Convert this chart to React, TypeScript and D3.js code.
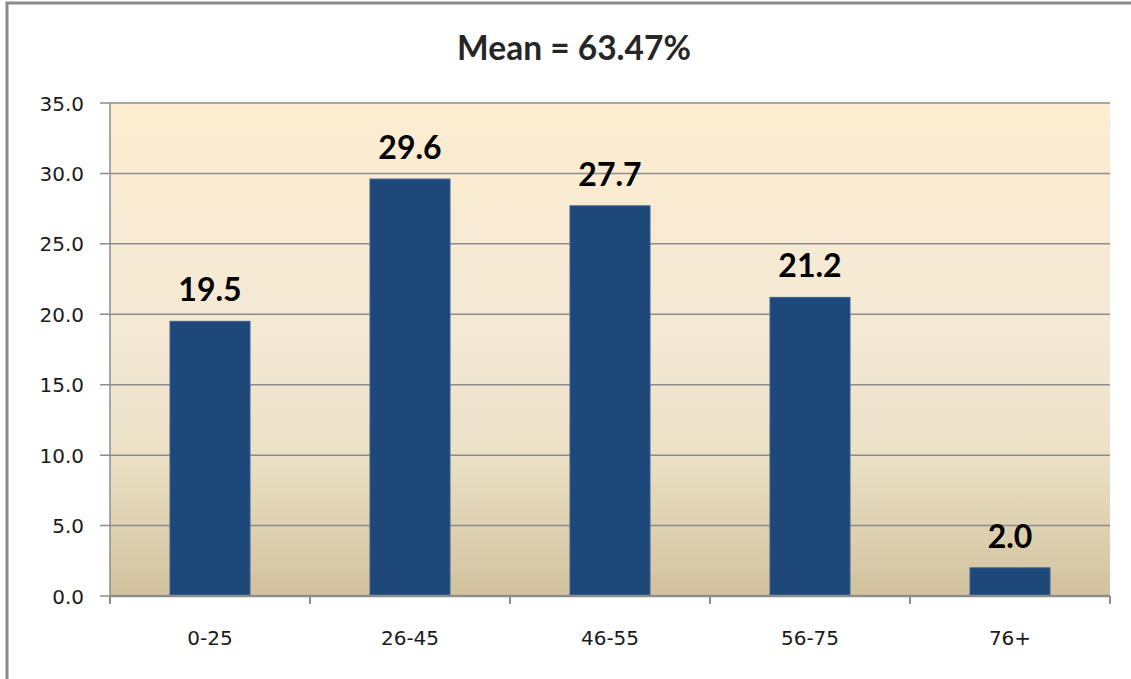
import React from "react";
import * as d3 from "d3";

const categories = ["0-25", "26-45", "46-55", "56-75", "76+"];
const values = [19.5, 29.6, 27.7, 21.2, 2.0];
const yTicks = [0, 5, 10, 15, 20, 25, 30, 35];
const title = "Mean = 63.47%";

const W = 1131;
const H = 679;
const plot = { left: 110, right: 1110, top: 103, bottom: 596 };

export default function App() {
  const x = d3
    .scaleBand<string>()
    .domain(categories)
    .range([plot.left, plot.right])
    .paddingInner(0.6)
    .paddingOuter(0.3);
  const xOuter = d3.scaleBand<string>().domain(categories).range([plot.left, plot.right]);
  const y = d3.scaleLinear().domain([0, 35]).range([plot.bottom, plot.top]);
  const grid = "#8c8c8c";

  return (
    <svg
      width={W}
      height={H}
      style={{ position: "absolute", left: 0, top: 0, background: "#fff" }}
    >
      <defs>
        <linearGradient id="bg" x1="0" y1="0" x2="0" y2="1">
          <stop offset="0" stopColor="#fdecd0" />
          <stop offset="0.45" stopColor="#f4e9d5" />
          <stop offset="0.7" stopColor="#ece2c8" />
          <stop offset="1" stopColor="#d2c29e" />
        </linearGradient>
      </defs>
      <rect x={7} y={3} width={W + 20} height={H + 20} fill="#fff" stroke="#8a8a8a" strokeWidth={3} />
      <text
        x={574}
        y={60}
        textAnchor="middle"
        fontFamily="Lato, 'Open Sans', sans-serif"
        fontWeight="bold"
        fontSize={33.5}
        fill="#262626"
      >
        {title}
      </text>
      <rect
        x={plot.left}
        y={plot.top}
        width={plot.right - plot.left}
        height={plot.bottom - plot.top}
        fill="url(#bg)"
      />
      {yTicks.map((t) => (
        <g key={t}>
          <line x1={plot.left - 10} x2={plot.right} y1={y(t)} y2={y(t)} stroke={grid} strokeWidth={1.5} />
          <text
            x={84}
            y={y(t) + 7.5}
            textAnchor="end"
            fontFamily="'DejaVu Sans', Verdana, sans-serif"
            fontSize={20}
            fill="#1a1a1a"
          >
            {t.toFixed(1)}
          </text>
        </g>
      ))}
      <line x1={plot.left} x2={plot.left} y1={plot.top} y2={plot.bottom} stroke={grid} strokeWidth={1.5} />
      {categories.map((c, i) => (
        <g key={c}>
          <rect
            x={x(c)}
            y={y(values[i])}
            width={x.bandwidth()}
            height={y(0) - y(values[i])}
            fill="#1d4879"
            stroke="#3a6190"
            strokeWidth={1}
          />
          <text
            x={(x(c) ?? 0) + x.bandwidth() / 2}
            y={y(values[i]) - 20}
            textAnchor="middle"
            fontFamily="Lato, 'Open Sans', sans-serif"
            fontWeight="bold"
            fontSize={32}
            fill="#000"
          >
            {values[i].toFixed(1)}
          </text>
          <text
            x={(xOuter(c) ?? 0) + xOuter.bandwidth() / 2}
            y={645}
            textAnchor="middle"
            fontFamily="'DejaVu Sans', Verdana, sans-serif"
            fontSize={20}
            fill="#1a1a1a"
          >
            {c}
          </text>
        </g>
      ))}
      <line x1={plot.left} x2={plot.right} y1={plot.bottom} y2={plot.bottom} stroke={grid} strokeWidth={2.5} />
      {d3.range(categories.length + 1).map((i) => {
        const xx = plot.left + i * xOuter.step();
        return <line key={i} x1={xx} x2={xx} y1={plot.bottom} y2={plot.bottom + 8} stroke={grid} strokeWidth={2} />;
      })}
    </svg>
  );
}
